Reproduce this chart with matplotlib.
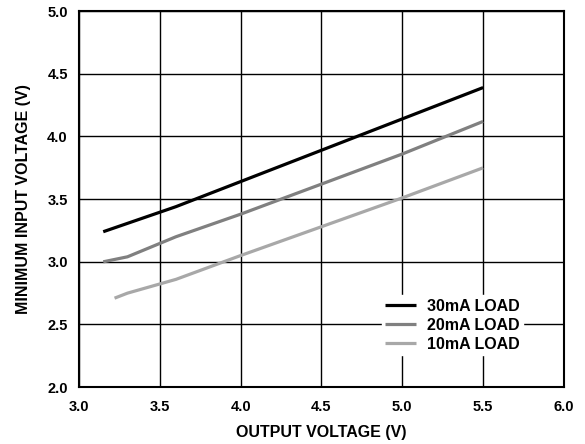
import matplotlib.pyplot as plt

plt.rcParams["font.family"] = "sans-serif"
plt.rcParams["font.sans-serif"] = ["Liberation Sans", "DejaVu Sans"]
plt.rcParams["font.weight"] = "bold"
plt.rcParams["axes.labelweight"] = "bold"

# ========== DATA ==========
x_30 = [3.15, 3.6, 4.0, 4.5, 5.0, 5.5]
y_30 = [3.24, 3.44, 3.64, 3.89, 4.14, 4.39]

x_20 = [3.15, 3.3, 3.6, 4.0, 4.5, 5.0, 5.5]
y_20 = [3.0, 3.04, 3.2, 3.38, 3.62, 3.86, 4.12]

x_10 = [3.22, 3.3, 3.6, 4.0, 4.5, 5.0, 5.5]
y_10 = [2.71, 2.75, 2.86, 3.05, 3.28, 3.51, 3.75]

labels = ["30mA LOAD", "20mA LOAD", "10mA LOAD"]
colors = ["#000000", "#808080", "#a8a8a8"]
# ==========================

fig = plt.figure(figsize=(5.85, 4.44), dpi=100)
ax = fig.add_axes([0.135, 0.128, 0.829, 0.847])

for xs, ys, lab, col in zip([x_30, x_20, x_10], [y_30, y_20, y_10], labels, colors):
    ax.plot(xs, ys, color=col, lw=2.3, label=lab, solid_capstyle="butt")

ax.set_xlim(3.0, 6.0)
ax.set_ylim(2.0, 5.0)
ax.set_xticks([3.0, 3.5, 4.0, 4.5, 5.0, 5.5, 6.0])
ax.set_yticks([2.0, 2.5, 3.0, 3.5, 4.0, 4.5, 5.0])
ax.set_xticklabels([f"{v:.1f}" for v in ax.get_xticks()], fontweight="bold", fontsize=10.5)
ax.set_yticklabels([f"{v:.1f}" for v in ax.get_yticks()], fontweight="bold", fontsize=10.5)
ax.tick_params(axis="x", length=0, pad=9)
ax.tick_params(axis="y", length=0, pad=8)
ax.grid(True, color="black", lw=1.0)
for s in ax.spines.values():
    s.set_linewidth(1.5)

ax.set_xlabel("OUTPUT VOLTAGE (V)", fontsize=11.5, fontweight="bold", labelpad=8)
ax.set_ylabel("MINIMUM INPUT VOLTAGE (V)", fontsize=11.5, fontweight="bold", labelpad=12)

leg = ax.legend(loc="center", bbox_to_anchor=(0.77, 0.165), frameon=True,
                fancybox=False, edgecolor="white", framealpha=1.0,
                prop={"size": 11.5, "weight": "bold"}, handlelength=1.9,
                handletextpad=0.7, labelspacing=0.25, borderpad=0.2)

fig.savefig("out.png", dpi=100)
